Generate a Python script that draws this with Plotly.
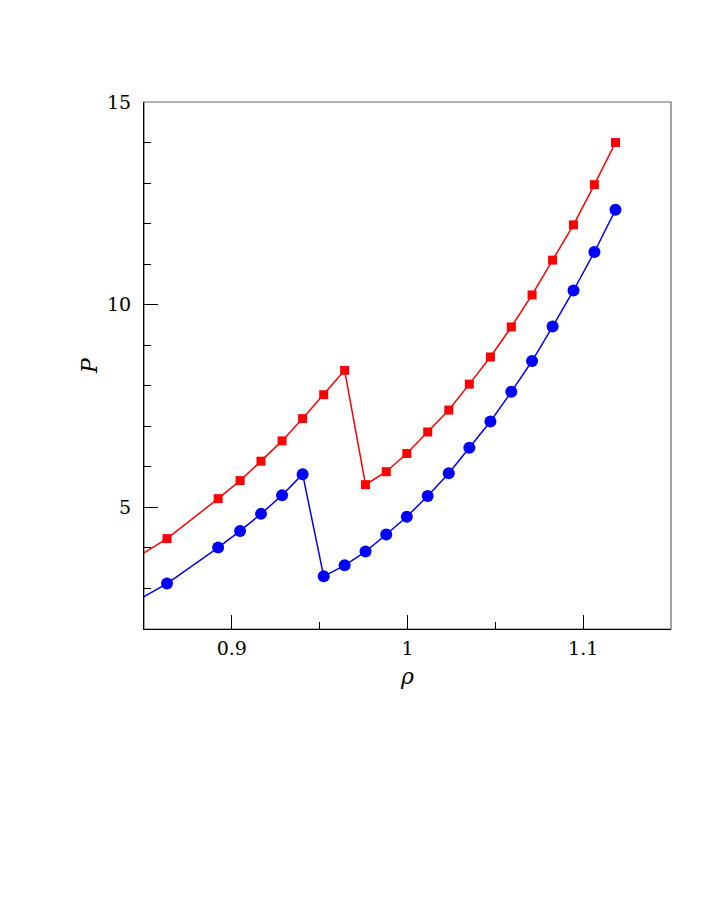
import plotly.graph_objects as go

rho = [0.834, 0.8631, 0.8922, 0.9047, 0.9166, 0.9286, 0.9403, 0.9523, 0.9642, 0.9761,
       0.9879, 0.9996, 1.0115, 1.0235, 1.0352, 1.0472, 1.0591, 1.0709, 1.0826,
       1.0945, 1.1064, 1.1184]
p_red = [3.45, 4.23, 5.215, 5.66, 6.14, 6.64, 7.19, 7.78, 8.38, 5.56, 5.88, 6.33, 6.86,
         7.40, 8.04, 8.71, 9.45, 10.24, 11.10, 11.97, 12.96, 14.00]
p_blue = [2.41, 3.12, 4.01, 4.42, 4.84, 5.30, 5.82, 3.30, 3.57, 3.91, 4.33, 4.77, 5.28,
          5.84, 6.47, 7.12, 7.85, 8.61, 9.46, 10.35, 11.30, 12.34]

x_ticks = [0.9, 1.0, 1.1]
x_ticklabels = ["0.9", "1", "1.1"]
y_ticks = [5, 10, 15]
y_ticklabels = ["5", "10", "15"]

fig = go.Figure()
fig.add_trace(go.Scatter(x=rho, y=p_red, mode="lines+markers",
                         line=dict(color="#ff0000", width=1.5),
                         marker=dict(symbol="square", size=9, color="#ff0000"),
                         showlegend=False))
fig.add_trace(go.Scatter(x=rho, y=p_blue, mode="lines+markers",
                         line=dict(color="#0000ff", width=1.5),
                         marker=dict(symbol="circle", size=12, color="#0000ff"),
                         showlegend=False))

font = "DejaVu Serif"
fig.add_shape(type="rect", xref="paper", yref="paper", x0=0, y0=0, x1=1, y1=1,
              line=dict(color="#666666", width=1.2), layer="below")

fig.update_layout(
    width=708, height=917,
    margin=dict(l=136, r=45, t=94, b=296),
    paper_bgcolor="white", plot_bgcolor="white",
    font=dict(family=font, size=19, color="black"),
    xaxis=dict(range=[0.85, 1.15], tickvals=x_ticks, ticktext=x_ticklabels,
               ticks="inside", ticklen=14, tickwidth=1, tickcolor="black",
               showline=True, linecolor="black", linewidth=1.2, showgrid=False,
               zeroline=False, ticklabelstandoff=2,
               minor=dict(tickvals=[0.95, 1.05], ticks="inside", ticklen=7,
                          tickcolor="black", showgrid=False),
               title=dict(text="<i>ρ</i>", font=dict(family=font, size=22), standoff=10)),
    yaxis=dict(range=[2, 15], tickvals=y_ticks, ticktext=y_ticklabels,
               ticks="inside", ticklen=14, tickwidth=1, tickcolor="black",
               showline=True, linecolor="black", linewidth=1.2, showgrid=False,
               zeroline=False, ticklabelstandoff=8,
               minor=dict(dtick=1, ticks="inside", ticklen=7,
                          tickcolor="black", showgrid=False),
               title=dict(text="<i>P</i>", font=dict(family=font, size=22), standoff=3)),
)

fig.write_html("out.html")
